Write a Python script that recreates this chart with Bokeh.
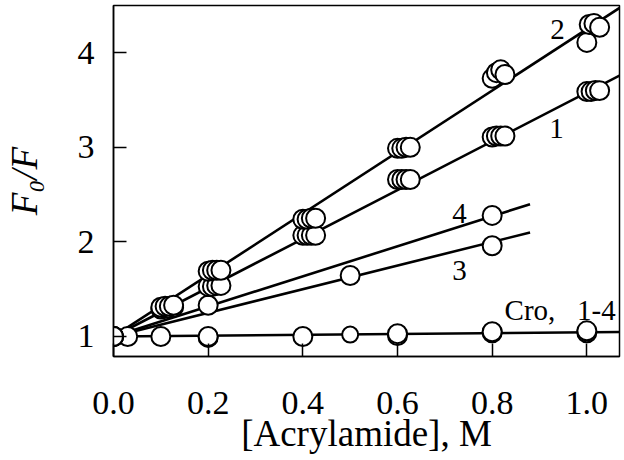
from bokeh.plotting import figure
from bokeh.models import Label, Range1d, FixedTicker, PrintfTickFormatter
from bokeh.embed import file_html
from bokeh.resources import INLINE

# ---- data ----
x_ticks = [0.0, 0.2, 0.4, 0.6, 0.8, 1.0]
y_ticks = [1, 2, 3, 4]

# curve 1 (replicates slightly offset in x)
x1 = [0.0, 0.1, 0.109, 0.118, 0.127, 0.2, 0.209, 0.218, 0.227,
      0.4, 0.409, 0.418, 0.427, 0.6, 0.609, 0.618, 0.627,
      0.8, 0.809, 0.818, 0.827, 1.0, 1.009, 1.018, 1.027]
y1 = [1.0, 1.29, 1.30, 1.30, 1.31, 1.53, 1.53, 1.54, 1.54,
      2.07, 2.07, 2.07, 2.07, 2.66, 2.66, 2.66, 2.66,
      3.11, 3.12, 3.12, 3.12, 3.59, 3.59, 3.60, 3.60]

# curve 2
x2 = [0.0, 0.1, 0.109, 0.118, 0.127, 0.2, 0.209, 0.218, 0.227,
      0.4, 0.409, 0.418, 0.427, 0.6, 0.609, 0.618, 0.627,
      0.8, 0.809, 0.818, 0.827, 1.0, 1.005, 1.015, 1.027]
y2 = [1.0, 1.31, 1.32, 1.32, 1.33, 1.69, 1.70, 1.70, 1.70,
      2.24, 2.24, 2.25, 2.25, 2.99, 2.99, 3.00, 3.00,
      3.73, 3.79, 3.82, 3.77, 4.11, 4.30, 4.31, 4.27]

# curve 3
x3 = [0.0, 0.5, 0.8]
y3 = [1.0, 1.645, 1.96]

# curve 4
x4 = [0.0, 0.2, 0.8]
y4 = [1.0, 1.33, 2.28]

# Cro, 1-4
xc = [0.0, 0.03, 0.1, 0.2, 0.2, 0.4, 0.6, 0.6, 0.8, 0.8, 1.0, 1.0]
yc = [1.0, 1.0, 1.0, 0.99, 1.0, 1.0, 1.01, 1.03, 1.04, 1.05, 1.04, 1.06]
xc_small = [0.5]
yc_small = [1.02]

# Stern-Volmer fit lines: slope and x-extent
fit_k = {"1": 2.58, "2": 3.25, "3": 1.25, "4": 1.59, "cro": 0.045}
fit_xmax = {"1": 1.07, "2": 1.07, "3": 0.88, "4": 0.88, "cro": 1.07}

SERIF = "Liberation Serif"

p = figure(frame_width=506, frame_height=351,
           x_range=Range1d(0.0, 1.069), y_range=Range1d(0.7885, 4.5),
           output_backend="svg", toolbar_location=None,
           min_border_left=111, min_border_right=3,
           min_border_top=5, min_border_bottom=100)
p.xgrid.visible = False
p.ygrid.visible = False
p.background_fill_color = "white"
p.border_fill_color = "white"
p.outline_line_color = "black"
p.outline_line_width = 1.5
p.outline_line_alpha = 1.0

for ax in (p.xaxis[0], p.yaxis[0]):
    ax.axis_line_width = 1.5
    ax.axis_line_color = "black"
    ax.major_tick_in = 13
    ax.major_tick_out = 0
    ax.major_tick_line_width = 1.5
    ax.minor_tick_line_color = None
    ax.major_label_text_font = SERIF
    ax.major_label_text_font_size = "34px"
    ax.major_label_text_color = "black"

p.xaxis.ticker = FixedTicker(ticks=x_ticks)
p.xaxis.formatter = PrintfTickFormatter(format="%.1f")
p.yaxis.ticker = FixedTicker(ticks=y_ticks)
p.yaxis.formatter = PrintfTickFormatter(format="%d")
p.xaxis.major_label_standoff = 35
p.yaxis.major_label_standoff = 19

p.xaxis.axis_label = "[Acrylamide], M"
p.xaxis.axis_label_text_font = SERIF
p.xaxis.axis_label_text_font_size = "37px"
p.xaxis.axis_label_text_font_style = "normal"
p.xaxis.axis_label_text_color = "black"
p.xaxis.axis_label_standoff = -4

p.yaxis.axis_label = "F\u2080/F"
p.yaxis.axis_label_text_font = SERIF
p.yaxis.axis_label_text_font_size = "37px"
p.yaxis.axis_label_text_font_style = "italic"
p.yaxis.axis_label_text_color = "black"
p.yaxis.axis_label_standoff = 30

# fit lines
for key in ["1", "2", "3", "4", "cro"]:
    xm = fit_xmax[key]
    p.line([0.0, xm], [1.0, 1.0 + fit_k[key] * xm], line_color="black", line_width=2.6)

MS = 19
def pts(xs, ys, size=MS):
    p.scatter(xs, ys, marker="circle", size=size, fill_color="white",
              line_color="black", line_width=2)

pts(xc, yc)
pts(xc_small, yc_small, 16)
pts(x3, y3)
pts(x4, y4)
pts(x1, y1)
pts(x2, y2)

# curve labels
def lab(x, y, t, align="center", size="29px"):
    p.add_layout(Label(x=x, y=y, text=t, text_font=SERIF, text_font_size=size,
                       text_align=align, text_baseline="alphabetic", text_color="black"))

lab(0.938, 4.246, "2")
lab(0.936, 3.199, "1")
lab(0.731, 2.301, "4")
lab(0.731, 1.703, "3")
lab(1.061, 1.276, "Cro,\u00a0\u00a0 1-4", align="right", size="29px")

open("out.html", "w").write(file_html(p, INLINE))
